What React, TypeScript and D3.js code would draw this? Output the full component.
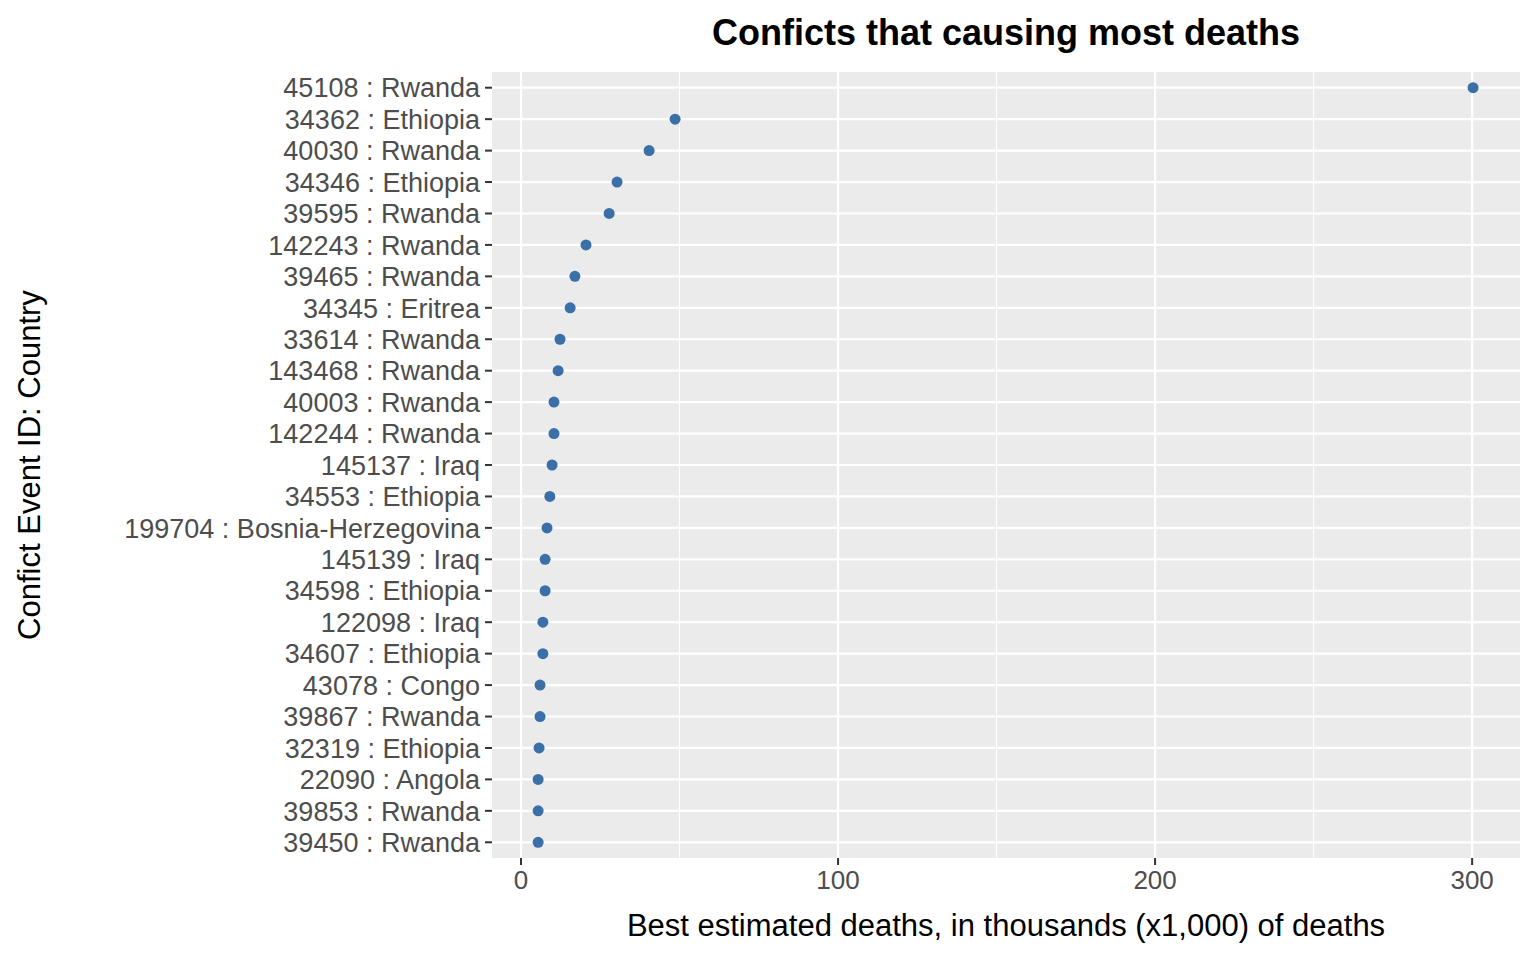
import { useEffect, useRef } from "react";
import * as d3 from "d3";

const labels = [
  "45108 : Rwanda", "34362 : Ethiopia", "40030 : Rwanda", "34346 : Ethiopia", "39595 : Rwanda",
  "142243 : Rwanda", "39465 : Rwanda", "34345 : Eritrea", "33614 : Rwanda", "143468 : Rwanda",
  "40003 : Rwanda", "142244 : Rwanda", "145137 : Iraq", "34553 : Ethiopia", "199704 : Bosnia-Herzegovina",
  "145139 : Iraq", "34598 : Ethiopia", "122098 : Iraq", "34607 : Ethiopia", "43078 : Congo",
  "39867 : Rwanda", "32319 : Ethiopia", "22090 : Angola", "39853 : Rwanda", "39450 : Rwanda",
];
const deaths = [
  300.3, 48.6, 40.4, 30.3, 27.8, 20.5, 17.0, 15.5, 12.3, 11.7,
  10.4, 10.4, 9.8, 9.1, 8.2, 7.6, 7.6, 6.9, 6.9, 6.0,
  6.0, 5.7, 5.4, 5.4, 5.4,
];
const xTicks = [0, 100, 200, 300];
const xMinor = [50, 150, 250];

const App: React.FC = () => {
  const ref = useRef<SVGSVGElement>(null);

  useEffect(() => {
    const svg = d3.select(ref.current);
    svg.selectAll("*").remove();
    const left = 492, right = 1520, top = 72, bottom = 858;
    const font = "Liberation Sans, Arial, sans-serif";

    const x = d3.scaleLinear().domain([-9.15, 315.1]).range([left, right]);
    const y = d3.scalePoint<string>().domain(labels).range([top, bottom]).padding(0.5);

    svg.append("rect").attr("x", left).attr("y", top)
      .attr("width", right - left).attr("height", bottom - top).attr("fill", "#ebebeb");

    // minor grid
    svg.selectAll(".minor").data(xMinor).join("line")
      .attr("x1", d => x(d)).attr("x2", d => x(d)).attr("y1", top).attr("y2", bottom)
      .attr("stroke", "#fff").attr("stroke-width", 1.1);
    // major grid
    svg.selectAll(".gx").data(xTicks).join("line")
      .attr("x1", d => x(d)).attr("x2", d => x(d)).attr("y1", top).attr("y2", bottom)
      .attr("stroke", "#fff").attr("stroke-width", 2.2);
    svg.selectAll(".gy").data(labels).join("line")
      .attr("x1", left).attr("x2", right).attr("y1", d => y(d)!).attr("y2", d => y(d)!)
      .attr("stroke", "#fff").attr("stroke-width", 2.2);

    // ticks
    svg.selectAll(".tx").data(xTicks).join("line")
      .attr("x1", d => x(d)).attr("x2", d => x(d)).attr("y1", bottom).attr("y2", bottom + 7)
      .attr("stroke", "#333").attr("stroke-width", 2);
    svg.selectAll(".ty").data(labels).join("line")
      .attr("x1", left - 7).attr("x2", left).attr("y1", d => y(d)!).attr("y2", d => y(d)!)
      .attr("stroke", "#333").attr("stroke-width", 2);

    svg.selectAll(".lx").data(xTicks).join("text")
      .attr("x", d => x(d)).attr("y", bottom + 31).attr("text-anchor", "middle")
      .attr("font-family", font).attr("font-size", 26).attr("fill", "#4d4d4d").text(d => d);
    svg.selectAll(".ly").data(labels).join("text")
      .attr("x", left - 12).attr("y", d => y(d)!).attr("dy", "0.36em").attr("text-anchor", "end")
      .attr("font-family", font).attr("font-size", 27).attr("fill", "#4d4d4d").text(d => d);

    // points
    svg.selectAll(".pt").data(labels).join("circle")
      .attr("cx", (_, i) => x(deaths[i])).attr("cy", d => y(d)!).attr("r", 5.5)
      .attr("fill", "#3a6fa8");

    svg.append("text").attr("x", (left + right) / 2 - 0).attr("y", 936).attr("text-anchor", "middle")
      .attr("font-family", font).attr("font-size", 31).attr("fill", "#000")
      .text("Best estimated deaths, in thousands (x1,000) of deaths");
    svg.append("text").attr("transform", `translate(40,${(top + bottom) / 2}) rotate(-90)`)
      .attr("text-anchor", "middle").attr("font-family", font).attr("font-size", 31).attr("fill", "#000")
      .text("Confict Event ID: Country");
    svg.append("text").attr("x", (left + right) / 2).attr("y", 45).attr("text-anchor", "middle")
      .attr("font-family", font).attr("font-size", 36).attr("font-weight", "bold").attr("fill", "#000")
      .text("Conficts that causing most deaths");
  }, []);

  return (
    <svg ref={ref} width={1536} height={960}
      style={{ position: "absolute", left: 0, top: 0, background: "#fff" }} />
  );
};

export default App;
